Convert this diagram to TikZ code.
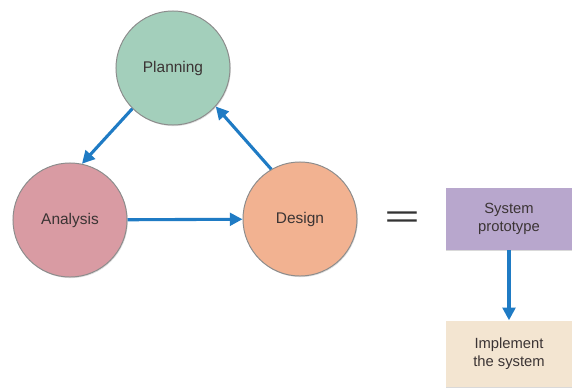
\documentclass[tikz,border=0pt]{standalone}
\usepackage{fontspec}
\setmainfont{Liberation Sans}
\usetikzlibrary{arrows.meta,positioning,shadows}
\definecolor{Flow}{HTML}{1F7BC4}
\definecolor{Sage}{HTML}{A3CFBB}
\definecolor{Rose}{HTML}{D99BA3}
\definecolor{Peach}{HTML}{F2B291}
\definecolor{Lilac}{HTML}{B8A7CD}
\definecolor{Sand}{HTML}{F3E5D1}
\definecolor{Ink}{HTML}{3B3434}

\begin{document}
\begin{tikzpicture}[x=0.025cm,y=-0.025cm,node distance=1.8cm,
        phase/.style={circle,minimum size=2.85cm,draw=black!45,line width=0.7pt,
          drop shadow={opacity=0.25,shadow xshift=0.6pt,shadow yshift=-0.8pt},
          font=\fontsize{11}{13}\selectfont,text=Ink},
        stage/.style={minimum width=3.15cm,minimum height=1.55cm,align=center,
          drop shadow={opacity=0.3,shadow xshift=0pt,shadow yshift=-1pt},
          font=\fontsize{10.5}{12.5}\selectfont,text=Ink},
        flow/.style={-{Triangle[length=9pt,width=9pt]},draw=Flow,line width=2.2pt}]
        \useasboundingbox (0,0) rectangle (572,388);
        \node[phase,fill=Sage] (planning) at (173,68) {Planning};
        \node[phase,fill=Rose] (analysis) at (70,220) {Analysis};
        \node[phase,fill=Peach] (design) at (300,219) {Design};
        \node[font=\fontsize{36}{36}\selectfont,text=black!80] (equals) at (402,220) {\scalebox{1.2}[0.63]{=}};
        \node[stage,fill=Lilac] (prototype) at (509,219) {System\\prototype};
        \node[stage,fill=Sand,minimum height=1.65cm,below=1.75cm of prototype.south,anchor=north] (implement) {Implement\\the system};
        \draw[flow] (planning.225) -- (analysis.78);
        \draw[flow] (analysis) -- (design);
        \draw[flow] (design.120) -- (planning.-42);
        \draw[flow] (prototype) -- (implement);
      \end{tikzpicture}
\end{document}
